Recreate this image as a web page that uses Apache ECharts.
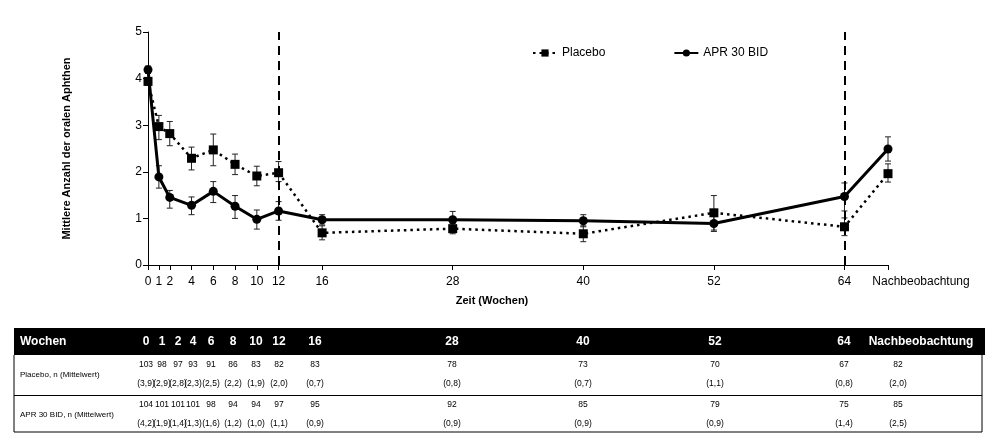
<!DOCTYPE html>
<html>
<head>
<meta charset="utf-8">
<script src="https://cdn.jsdelivr.net/npm/echarts@6/dist/echarts.min.js"></script>
<style>
    html, body { margin: 0; padding: 0; background: #fff; }
    #main { width: 995px; height: 440px; }
</style>
</head>
<body>
<div id="main"></div>
<script>
// Zeitpunkte (Wochen), 68 = Position der Nachbeobachtung
var weeks = [0, 1, 2, 4, 6, 8, 10, 12, 16, 28, 40, 52, 64, 68];
var weekLabels = ['0', '1', '2', '4', '6', '8', '10', '12', '16', '28', '40', '52', '64', 'Nachbeobachtung'];

// Placebo: Mittelwert und Fehlerbalken
var placeboMean = [3.94, 2.97, 2.82, 2.29, 2.47, 2.16, 1.91, 1.98, 0.69, 0.78, 0.67, 1.12, 0.82, 1.96];
var placeboLow  = [3.86, 2.69, 2.56, 2.04, 2.13, 1.94, 1.70, 1.79, 0.54, 0.67, 0.50, 0.75, 0.63, 1.78];
var placeboHigh = [4.02, 3.21, 3.08, 2.53, 2.81, 2.38, 2.12, 2.22, 0.84, 0.89, 0.84, 1.49, 1.01, 2.17];

// APR 30 BID
var aprMean = [4.19, 1.89, 1.45, 1.28, 1.58, 1.26, 0.98, 1.16, 0.97, 0.97, 0.95, 0.89, 1.47, 2.49];
var aprLow  = [4.11, 1.65, 1.22, 1.08, 1.34, 1.00, 0.77, 0.96, 0.86, 0.80, 0.82, 0.72, 1.16, 2.23];
var aprHigh = [4.27, 2.13, 1.60, 1.46, 1.79, 1.49, 1.18, 1.36, 1.08, 1.15, 1.08, 1.06, 1.76, 2.75];

// Tabelle unter der Grafik
var placeboN = [103, 98, 97, 93, 91, 86, 83, 82, 83, 78, 73, 70, 67, 82];
var placeboTab = [3.9, 2.9, 2.8, 2.3, 2.5, 2.2, 1.9, 2.0, 0.7, 0.8, 0.7, 1.1, 0.8, 2.0];
var aprN = [104, 101, 101, 101, 98, 94, 94, 97, 95, 92, 85, 79, 75, 85];
var aprTab = [4.2, 1.9, 1.4, 1.3, 1.6, 1.2, 1.0, 1.1, 0.9, 0.9, 0.9, 0.9, 1.4, 2.5];

var FONT = '"Liberation Sans", Arial, sans-serif';

(function() {
    var chart = echarts.init(document.getElementById('main'));

    function pairs(ys) {
        return weeks.map(function(w, i) { return [w, ys[i]]; });
    }
    function bars(lo, hi) {
        return weeks.map(function(w, i) { return [w, lo[i], hi[i]]; });
    }

    // Fehlerbalken
    function renderErr(params, api) {
        var x = api.value(0);
        var p1 = api.coord([x, api.value(1)]);
        var p2 = api.coord([x, api.value(2)]);
        var cap = 3;
        var st = { stroke: '#222', lineWidth: 1 };
        return {
            type: 'group',
            children: [
                { type: 'line', shape: { x1: p1[0], y1: p1[1], x2: p2[0], y2: p2[1] }, style: st },
                { type: 'line', shape: { x1: p1[0] - cap, y1: p1[1], x2: p1[0] + cap, y2: p1[1] }, style: st },
                { type: 'line', shape: { x1: p2[0] - cap, y1: p2[1], x2: p2[0] + cap, y2: p2[1] }, style: st }
            ]
        };
    }

    // Tabelle (Spaltenmitten in px)
    var colX = [146, 162, 178, 193, 211, 233, 256, 279, 315, 452, 583, 715, 844, 898];
    var headX = colX.slice(0, 13).concat([921]);
    var tL = 14, tR = 982;
    var g = [];
    g.push({ type: 'rect', shape: { x: tL, y: 328, width: tR - tL + 3, height: 27 }, style: { fill: '#000' } });
    g.push({ type: 'text', x: 20, y: 342, style: { text: 'Wochen', fill: '#fff', font: 'bold 12px ' + FONT, verticalAlign: 'middle' } });
    weekLabels.forEach(function(t, i) {
        g.push({ type: 'text', x: headX[i], y: 342, style: { text: t, fill: '#fff', font: 'bold 12px ' + FONT, align: 'center', verticalAlign: 'middle' } });
    });
    var lineSt = { stroke: '#000', lineWidth: 1 };
    g.push({ type: 'line', shape: { x1: tL, y1: 355, x2: tL, y2: 432 }, style: lineSt });
    g.push({ type: 'line', shape: { x1: tR, y1: 355, x2: tR, y2: 432 }, style: lineSt });
    g.push({ type: 'line', shape: { x1: tL, y1: 395.5, x2: tR, y2: 395.5 }, style: lineSt });
    g.push({ type: 'line', shape: { x1: tL, y1: 432, x2: tR, y2: 432 }, style: lineSt });

    function fmt(v) { return '(' + v.toFixed(1).replace('.', ',') + ')'; }
    function addRow(label, ns, ms, y0) {
        g.push({ type: 'text', x: 20, y: y0 + 10, style: { text: label, fill: '#000', font: '8px ' + FONT, verticalAlign: 'middle' } });
        ns.forEach(function(n, i) {
            g.push({ type: 'text', x: colX[i], y: y0, style: { text: String(n), fill: '#000', font: '8.5px ' + FONT, align: 'center', verticalAlign: 'middle' } });
            g.push({ type: 'text', x: colX[i], y: y0 + 19, style: { text: fmt(ms[i]), fill: '#000', font: '8.5px ' + FONT, align: 'center', verticalAlign: 'middle' } });
        });
    }
    addRow('Placebo, n (Mittelwert)', placeboN, placeboTab, 365);
    addRow('APR 30 BID, n (Mittelwert)', aprN, aprTab, 405);

    var option = {
        animation: false,
        backgroundColor: '#fff',
        textStyle: { fontFamily: FONT },
        grid: { left: 148, right: 107, top: 32, bottom: 175 },
        legend: {
            left: 527,
            top: 42,
            itemGap: 68,
            itemWidth: 24,
            itemHeight: 9,
            textStyle: { fontSize: 12, color: '#000', fontFamily: FONT },
            data: ['Placebo', 'APR 30 BID']
        },
        xAxis: {
            type: 'value',
            min: 0,
            max: 68,
            name: 'Zeit (Wochen)',
            nameLocation: 'middle',
            nameGap: 30,
            nameTextStyle: { fontWeight: 'bold', fontSize: 11, color: '#000', padding: [0, 52, 0, 0] },
            axisLine: { lineStyle: { color: '#000', width: 1 } },
            axisTick: { show: true, length: 5, lineStyle: { color: '#000' }, customValues: weeks },
            splitLine: { show: false },
            axisLabel: {
                customValues: weeks,
                fontSize: 12,
                color: '#000',
                margin: 11,
                formatter: function(v) {
                    var i = weeks.indexOf(v);
                    if (i === weeks.length - 1) return '{fu|' + weekLabels[i] + '}';
                    return i >= 0 ? weekLabels[i] : '';
                },
                rich: { fu: { fontSize: 12, color: '#000', padding: [0, 0, 0, 66] } }
            }
        },
        yAxis: {
            type: 'value',
            min: 0,
            max: 5,
            interval: 1,
            name: 'Mittlere Anzahl der oralen Aphthen',
            nameLocation: 'middle',
            nameGap: 76,
            nameTextStyle: { fontWeight: 'bold', fontSize: 11, color: '#000' },
            axisLine: { show: true, lineStyle: { color: '#000', width: 1 } },
            axisTick: { show: true, length: 5, lineStyle: { color: '#000' } },
            splitLine: { show: false },
            axisLabel: { fontSize: 12, color: '#000', margin: 6 }
        },
        series: [
            {
                type: 'custom',
                name: 'errPlacebo',
                renderItem: renderErr,
                data: bars(placeboLow, placeboHigh),
                encode: { x: 0, y: [1, 2] },
                z: 1,
                silent: true
            },
            {
                type: 'custom',
                name: 'errApr',
                renderItem: renderErr,
                data: bars(aprLow, aprHigh),
                encode: { x: 0, y: [1, 2] },
                z: 1,
                silent: true
            },
            {
                name: 'Placebo',
                type: 'line',
                data: pairs(placeboMean),
                symbol: 'rect',
                symbolSize: 9,
                itemStyle: { color: '#000' },
                lineStyle: { color: '#000', width: 2.5, type: [2.5, 4] },
                z: 3
            },
            {
                name: 'APR 30 BID',
                type: 'line',
                data: pairs(aprMean),
                symbol: 'circle',
                symbolSize: 9,
                itemStyle: { color: '#000' },
                lineStyle: { color: '#000', width: 3 },
                z: 4,
                markLine: {
                    silent: true,
                    symbol: 'none',
                    label: { show: false },
                    lineStyle: { color: '#000', width: 2, type: [9, 6] },
                    data: [{ xAxis: 12 }, { xAxis: 64 }]
                }
            }
        ],
        graphic: g
    };
    chart.setOption(option);
})();
</script>
</body>
</html>
